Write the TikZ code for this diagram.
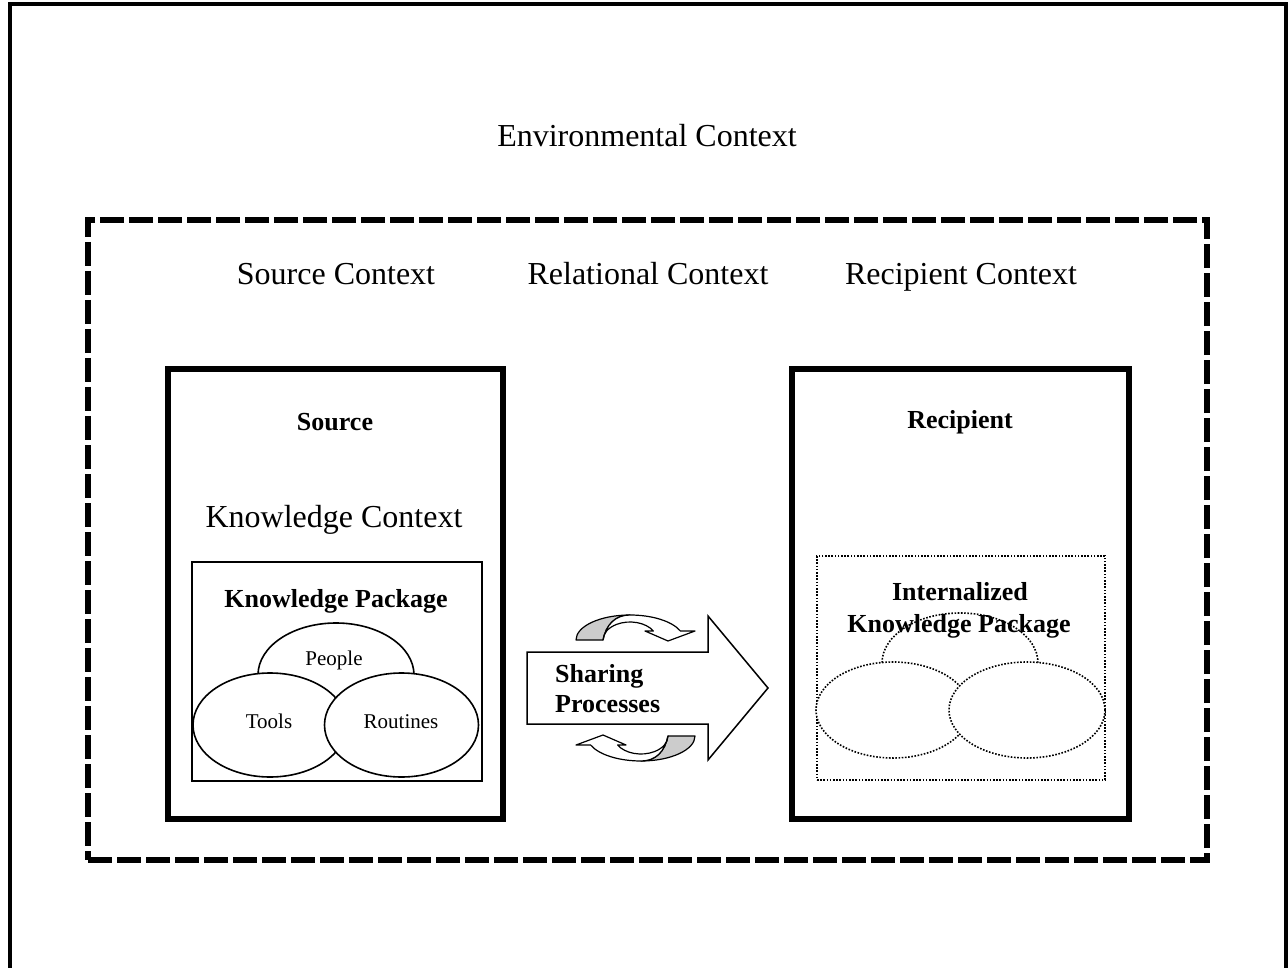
\documentclass[tikz,border=0pt]{standalone}
\usepackage{fontspec}
\setmainfont{Liberation Serif}
\usetikzlibrary{shapes.geometric}
\begin{document}
\begin{tikzpicture}[x=1pt,y=-1pt,
  lbl/.style={font=\fontsize{32}{36}\selectfont, inner sep=0pt, anchor=base},
  boldlbl/.style={font=\fontsize{26}{30}\selectfont\bfseries, inner sep=0pt, anchor=base},
  smalllbl/.style={font=\fontsize{21}{24}\selectfont, inner sep=0pt, anchor=base},
  heavybox/.style={draw, line width=6pt, inner sep=0pt, rectangle},
  thinbox/.style={draw, line width=2pt, inner sep=0pt, rectangle},
  dotline/.style={draw, line width=1.6pt, dash pattern=on 1.6pt off 1.6pt},
  ell/.style={ellipse, draw, fill=white, line width=1.6pt, inner sep=0pt},
  dotell/.style={ellipse, dotline, fill=white, inner sep=0pt},
  ribbon/.style={draw, line width=1.2pt, line join=round},
  ribgray/.style={ribbon, fill=black!20},
  ribwhite/.style={ribbon, fill=white}
]
\useasboundingbox (0,0) rectangle (1288,968);
\clip (0,0) rectangle (1288,968);

% outer frame (bottom runs off the page)
\draw[line width=3.5pt] (10,990) -- (10,4) -- (1286,4) -- (1286,990);

% dashed relational context
\node[draw, line width=6pt, dash pattern=on 24pt off 5pt, inner sep=0pt,
      minimum width=1119pt, minimum height=640pt] (dashbox) at (647.5,540) {};

% source and recipient boxes
\node[heavybox, minimum width=335pt, minimum height=450pt] (srcbox) at (335.5,594) {};
\node[heavybox, minimum width=337pt, minimum height=450pt] (recbox) at (960.5,594) {};

% knowledge package
\node[thinbox, minimum width=290pt, minimum height=219pt] (kpbox) at (337,671.5) {};
\node[ell, minimum width=156pt, minimum height=104pt] (people) at (336,675) {};
\node[ell, minimum width=154pt, minimum height=104pt] (tools) at (270,725) {};
\node[ell, minimum width=154pt, minimum height=104pt] (routines) at (401.5,725) {};

% internalized knowledge package
\node[dotline, inner sep=0pt, minimum width=288pt, minimum height=224pt] (ikpbox) at (961,668) {};
\node[dotell, minimum width=156pt, minimum height=100pt] (ipeople) at (960,663) {};
\node[dotell, minimum width=154pt, minimum height=96pt] (itools) at (893,710) {};
\node[dotell, minimum width=156pt, minimum height=96pt] (iroutines) at (1027,710) {};

% big arrow
\draw[line width=1.5pt, line join=miter, fill=white]
  (527,652) -- (708,652) -- (708,616) -- (768,688) -- (708,760) -- (708,724) -- (527,724) -- cycle;

% curved arrows
\begin{scope}
  \draw[ribgray] (576,640) arc[start angle=180, end angle=90, x radius=54pt, y radius=25pt]
     .. controls (615,615) and (606,625) .. (603,640) -- cycle;
  \draw[ribwhite] (603,640) .. controls (606,625) and (615,615) .. (630,615)
     arc[start angle=90, end angle=21.1, x radius=54pt, y radius=25pt]
     -- (695,631) -- (668,641) -- (645,631) -- (653.4,631)
     arc[start angle=30, end angle=180, x radius=27pt, y radius=18pt] -- cycle;
\end{scope}
\begin{scope}[rotate around={180:(635.5,688)}]
  \draw[ribgray] (576,640) arc[start angle=180, end angle=90, x radius=54pt, y radius=25pt]
     .. controls (615,615) and (606,625) .. (603,640) -- cycle;
  \draw[ribwhite] (603,640) .. controls (606,625) and (615,615) .. (630,615)
     arc[start angle=90, end angle=21.1, x radius=54pt, y radius=25pt]
     -- (695,631) -- (668,641) -- (645,631) -- (653.4,631)
     arc[start angle=30, end angle=180, x radius=27pt, y radius=18pt] -- cycle;
\end{scope}

% texts
\node[lbl] (env) at (647,147) {Environmental Context};
\node[lbl] (srcctx) at (336,285) {Source Context};
\node[lbl] (relctx) at (648,285) {Relational Context};
\node[lbl] (recctx) at (961,285) {Recipient Context};
\node[boldlbl] (srclbl) at (335,430) {Source};
\node[lbl] (kctx) at (334,527) {Knowledge Context};
\node[boldlbl] (kplbl) at (336,607) {Knowledge Package};
\node[smalllbl] (peoplelbl) at (334,665) {People};
\node[smalllbl] (toolslbl) at (269,728) {Tools};
\node[smalllbl] (routineslbl) at (401,728) {Routines};
\node[boldlbl] (reclbl) at (960,428) {Recipient};
\node[boldlbl] (ikpl1) at (960,600) {Internalized};
\node[boldlbl] (ikpl2) at (959,632) {Knowledge Package};
\node[boldlbl, anchor=base west] (share1) at (555,682) {Sharing};
\node[boldlbl, anchor=base west] (share2) at (555,712) {Processes};
\end{tikzpicture}
\end{document}
